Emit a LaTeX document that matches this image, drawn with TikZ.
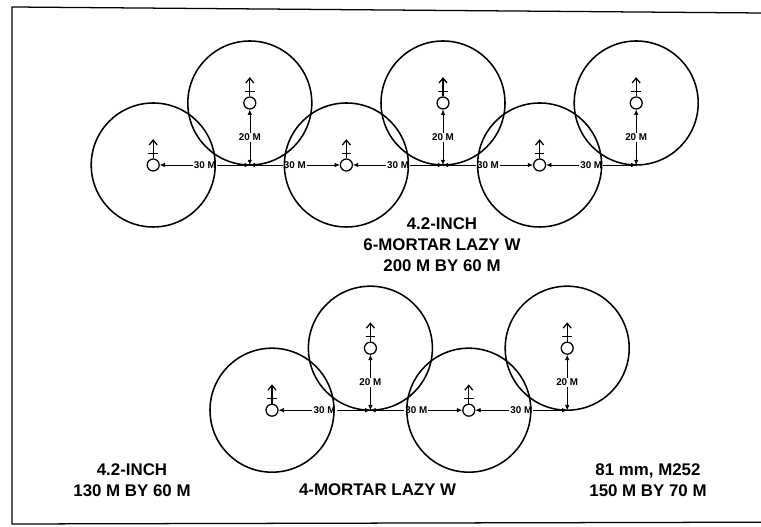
\documentclass[tikz,border=0pt]{standalone}
\usepackage{fontspec}
\setsansfont{Liberation Sans}
\usetikzlibrary{arrows.meta}

\begin{document}
\begin{tikzpicture}[every node/.style={font=\sffamily\bfseries}, >={Latex[length=1.3mm,width=1.1mm]},
	gun/.style={circle, draw, line width=0.9pt, inner sep=0pt, minimum size=3mm},
	aim/.style={-{Straight Barb[length=1.2mm,width=2mm]}, line width=0.9pt},
	dimlabel/.style={fill=white, inner sep=0.8pt, font=\sffamily\bfseries\fontsize{7}{8}\selectfont},
	caption/.style={align=center, font=\sffamily\bfseries\fontsize{12}{14.9}\selectfont}]
	\useasboundingbox (0,0) rectangle (19.025,13.175);
	\draw[line width=0.9pt] (19.025,12.85) -- (0.3,13.0) -- (0.3,0.075) -- (19.025,0.12);
	% 6-mortar lazy W
	\foreach \k/\y in {1/9.05,2/10.6,3/9.05,4/10.6,5/9.05,6/10.6} {
		\node[gun] (t\k) at ({3.83+2.415*(\k-1)},\y) {};
		\coordinate (tj\k) at ({3.83+2.415*(\k-1)},9.05);
		\draw[aim] (t\k.north) -- ++(0,0.48);
		\draw[line width=0.8pt] ([yshift=0.12cm]t\k.north) +(-0.12,0) -- +(0.12,0);
	}
	\foreach \k in {2,4,6}
		\draw[<->, thin] (tj\k) -- node[dimlabel] {20 M} (t\k);
	\draw[<->, thin] (t1) -- node[dimlabel] {30 M} (tj2);
	\draw[<->, thin] (tj2) -- node[dimlabel] {30 M} (t3);
	\draw[<->, thin] (t3) -- node[dimlabel] {30 M} (tj4);
	\draw[<->, thin] (tj4) -- node[dimlabel] {30 M} (t5);
	\draw[<->, thin] (t5) -- node[dimlabel] {30 M} (tj6);
	\foreach \k in {1,...,6}
		\draw[line width=1.1pt] (t\k) circle (1.55);
	% 4-mortar lazy W
	\foreach \k/\y in {1/2.92,2/4.47,3/2.92,4/4.47} {
		\node[gun] (b\k) at ({6.8+2.46*(\k-1)},\y) {};
		\coordinate (bj\k) at ({6.8+2.46*(\k-1)},2.92);
		\draw[aim] (b\k.north) -- ++(0,0.48);
		\draw[line width=0.8pt] ([yshift=0.12cm]b\k.north) +(-0.12,0) -- +(0.12,0);
	}
	\foreach \k in {2,4}
		\draw[<->, thin] (bj\k) -- node[dimlabel] {20 M} (b\k);
	\draw[<->, thin] (b1) -- node[dimlabel] {30 M} (bj2);
	\draw[<->, thin] (bj2) -- node[dimlabel] {30 M} (b3);
	\draw[<->, thin] (b3) -- node[dimlabel] {30 M} (bj4);
	\foreach \k in {1,...,4}
		\draw[line width=1.1pt] (b\k) circle (1.55);
	% captions
	\node[caption] (toptitle) at (11.05,7.05) {4.2-INCH\\6-MORTAR LAZY W\\200 M BY 60 M};
	\node[caption] (lefttitle) at (3.3,1.175) {4.2-INCH\\130 M BY 60 M};
	\node[caption] (midtitle) at (9.44,0.925) {4-MORTAR LAZY W};
	\node[caption] (righttitle) at (16.2,1.175) {81 mm, M252\\150 M BY 70 M};
\end{tikzpicture}
\end{document}
